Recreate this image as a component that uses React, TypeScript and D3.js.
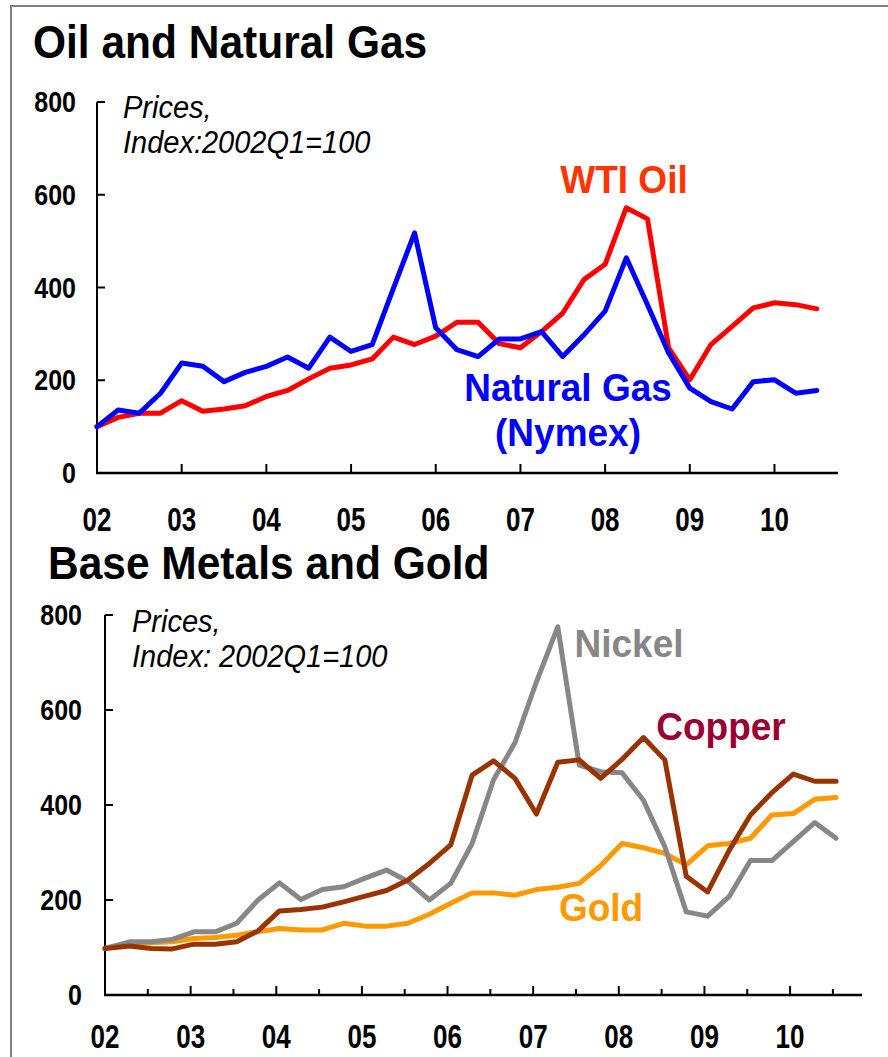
import React from "react";
import * as d3 from "d3";

// Quarterly data, 2002Q1 .. 2010Q3 (index 2002Q1 = 100)
const quarters: number[] = d3.range(35);
const yearTicks = ["02", "03", "04", "05", "06", "07", "08", "09", "10"];
const yTicks = [0, 200, 400, 600, 800];

const wtiOil = [100, 120, 129, 129, 156, 133, 138, 145, 165, 178, 203, 226, 233, 246, 293, 277, 295, 325, 325, 279, 270, 305, 345, 417, 450, 572, 548, 270, 201, 277, 316, 356, 367, 363, 354];
const naturalGas = [100, 136, 129, 172, 237, 230, 197, 217, 230, 250, 226, 293, 262, 277, 398, 518, 313, 266, 251, 289, 289, 305, 251, 298, 349, 464, 363, 259, 183, 154, 138, 197, 201, 172, 178];

const nickel = [98, 112, 112, 117, 133, 133, 151, 200, 236, 201, 222, 228, 246, 263, 239, 200, 235, 319, 453, 531, 659, 775, 484, 470, 468, 410, 312, 175, 166, 207, 283, 283, 323, 363, 330];
const copper = [98, 103, 98, 97, 107, 107, 112, 135, 177, 180, 185, 196, 208, 220, 242, 277, 316, 463, 493, 456, 381, 490, 495, 456, 496, 542, 495, 250, 217, 304, 379, 426, 465, 450, 450];
const gold = [98, 109, 110, 112, 119, 121, 126, 133, 140, 137, 137, 151, 145, 145, 151, 170, 193, 215, 215, 210, 222, 227, 235, 272, 319, 310, 298, 274, 314, 319, 330, 379, 382, 412, 416];

const FONT = "'Liberation Sans', Arial, Helvetica, sans-serif";

type Series = { name: string; values: number[]; color: string };
type Label = { lines: string[]; x: number; y: number; color: string };

function SText(props: {
  x: number;
  y: number;
  sy: number;
  size: number;
  anchor?: string;
  weight?: string;
  italic?: boolean;
  fill?: string;
  dy?: string;
  children: React.ReactNode;
}) {
  return (
    <text
      transform={`translate(${props.x},${props.y}) scale(1,${props.sy})`}
      x={0}
      y={0}
      dy={props.dy}
      textAnchor={props.anchor || "start"}
      fontFamily={FONT}
      fontWeight={props.weight || "normal"}
      fontStyle={props.italic ? "italic" : "normal"}
      fontSize={props.size}
      fill={props.fill || "#000"}
    >
      {props.children}
    </text>
  );
}

function Panel(props: {
  title: string;
  titleX: number;
  titleY: number;
  x0: number;
  x1: number;
  xMaxYear: number;
  yTop: number;
  yBottom: number;
  labelRight: number;
  xLabelY: number;
  offset: number;
  minorTicks: boolean;
  note: string[];
  noteX: number;
  noteY: number;
  series: Series[];
  labels: Label[];
}) {
  const x = d3.scaleLinear().domain([2002, props.xMaxYear]).range([props.x0, props.x1]);
  const y = d3.scaleLinear().domain([0, 800]).range([props.yBottom, props.yTop]);
  const line = d3
    .line<number>()
    .x((_, i) => x(2002 + (quarters[i] + (i === 0 ? 0 : props.offset)) / 4))
    .y((v) => y(v));
  const majors = yearTicks.map((_, i) => 2002 + i);
  const minors = props.minorTicks ? majors.map((m) => m + 0.5) : [];
  return (
    <g>
      <SText x={props.titleX} y={props.titleY} sy={1.1} size={42.5} weight="bold">
        {props.title}
      </SText>
      {props.note.map((t, i) => (
        <SText key={i} x={props.noteX} y={props.noteY + i * 35} sy={1.05} size={29} italic>
          {t}
        </SText>
      ))}
      {/* axes */}
      <line x1={x(2002)} x2={x(2002)} y1={y(800)} y2={y(0)} stroke="#000" strokeWidth={2} />
      <line x1={x(2002) - 1} x2={props.x1} y1={y(0)} y2={y(0)} stroke="#000" strokeWidth={2.5} />
      {yTicks.map((t) => (
        <g key={t}>
          <line x1={x(2002)} x2={x(2002) + 8} y1={y(t)} y2={y(t)} stroke="#000" strokeWidth={2} />
          <SText x={props.labelRight} y={y(t) + 10} sy={1.15} size={25} anchor="end" weight="bold">
            {t}
          </SText>
        </g>
      ))}
      {majors.map((m, i) => (
        <g key={m}>
          <line x1={x(m)} x2={x(m)} y1={y(0)} y2={y(0) - 9} stroke="#000" strokeWidth={2} />
          <SText x={x(m)} y={props.xLabelY} sy={1.25} size={26} anchor="middle" weight="bold">
            {yearTicks[i]}
          </SText>
        </g>
      ))}
      {minors.map((m) => (
        <line key={m} x1={x(m)} x2={x(m)} y1={y(0)} y2={y(0) - 6} stroke="#000" strokeWidth={2} />
      ))}
      {props.series.map((s) => (
        <path key={s.name} d={line(s.values) || ""} fill="none" stroke={s.color} strokeWidth={5} strokeLinejoin="round" strokeLinecap="round" />
      ))}
      {props.labels.map((l, k) =>
        l.lines.map((t, i) => (
          <SText key={k + "-" + i} x={l.x} y={l.y + i * 45} sy={1.05} size={37} anchor="middle" weight="bold" fill={l.color}>
            {t}
          </SText>
        ))
      )}
    </g>
  );
}

export default function App() {
  return (
    <svg width={888} height={1057} style={{ position: "absolute", left: 0, top: 0, background: "#fff" }}>
      <rect x={0} y={0} width={888} height={1057} fill="#fff" />
      <line x1={11} x2={888} y1={6} y2={6} stroke="#808080" strokeWidth={2} />
      <line x1={11} x2={11} y1={5} y2={1057} stroke="#808080" strokeWidth={2} />
      <Panel
        title="Oil and Natural Gas"
        titleX={33}
        titleY={58}
        x0={97}
        x1={838}
        xMaxYear={2010.75}
        yTop={102}
        yBottom={473}
        labelRight={76}
        xLabelY={531}
        offset={0}
        minorTicks={false}
        note={["Prices,", "Index:2002Q1=100"]}
        noteX={123}
        noteY={118}
        series={[
          { name: "wti", values: wtiOil, color: "#FF0000" },
          { name: "gas", values: naturalGas, color: "#0000FF" },
        ]}
        labels={[
          { lines: ["WTI Oil"], x: 624, y: 193, color: "#FF3300" },
          { lines: ["Natural Gas", "(Nymex)"], x: 568, y: 401, color: "#0000FF" },
        ]}
      />
      <Panel
        title="Base Metals and Gold"
        titleX={48}
        titleY={579}
        x0={105}
        x1={862}
        xMaxYear={2010.84}
        yTop={615}
        yBottom={995}
        labelRight={82}
        xLabelY={1048}
        offset={0.15}
        minorTicks={true}
        note={["Prices,", "Index: 2002Q1=100"]}
        noteX={132}
        noteY={632}
        series={[
          { name: "gold", values: gold, color: "#FF9900" },
          { name: "nickel", values: nickel, color: "#878787" },
          { name: "copper", values: copper, color: "#993300" },
        ]}
        labels={[
          { lines: ["Nickel"], x: 629, y: 657, color: "#878787" },
          { lines: ["Copper"], x: 721, y: 740, color: "#990033" },
          { lines: ["Gold"], x: 601, y: 921, color: "#FF9900" },
        ]}
      />
    </svg>
  );
}
